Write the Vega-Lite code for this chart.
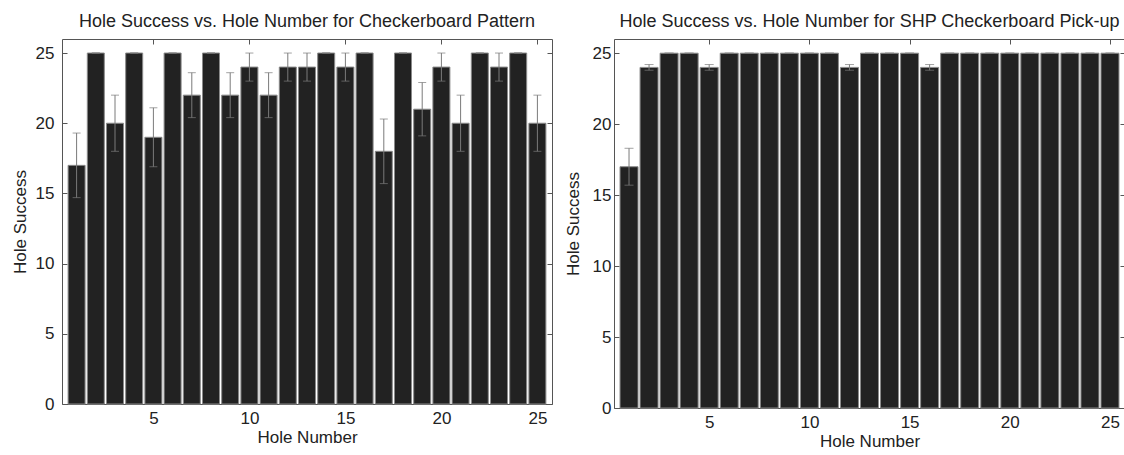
{
  "$schema": "https://vega.github.io/schema/vega-lite/v6.json",
  "background": "white",
  "padding": {"left": 11, "top": 12, "right": 0, "bottom": 0},
  "spacing": 11,
  "config": {
    "font": "Liberation Sans",
    "view": {"stroke": null},
    "title": {"font": "Liberation Sans", "fontSize": 18, "fontWeight": "normal", "color": "#222", "offset": 8},
    "axis": {
      "grid": false,
      "domainColor": "#555",
      "tickColor": "#555",
      "tickSize": -5,
      "labelPadding": 11,
      "labelFont": "Liberation Sans",
      "labelFontSize": 17,
      "labelColor": "#222",
      "titleFont": "Liberation Sans",
      "titleFontSize": 17,
      "titleFontWeight": "normal",
      "titleColor": "#222"
    }
  },
  "datasets": {
    "left": [
      {"hole": 1, "success": 17, "lo": 14.7, "hi": 19.3},
      {"hole": 2, "success": 25, "lo": 25, "hi": 25},
      {"hole": 3, "success": 20, "lo": 18, "hi": 22},
      {"hole": 4, "success": 25, "lo": 25, "hi": 25},
      {"hole": 5, "success": 19, "lo": 16.9, "hi": 21.1},
      {"hole": 6, "success": 25, "lo": 25, "hi": 25},
      {"hole": 7, "success": 22, "lo": 20.4, "hi": 23.6},
      {"hole": 8, "success": 25, "lo": 25, "hi": 25},
      {"hole": 9, "success": 22, "lo": 20.4, "hi": 23.6},
      {"hole": 10, "success": 24, "lo": 23, "hi": 25},
      {"hole": 11, "success": 22, "lo": 20.4, "hi": 23.6},
      {"hole": 12, "success": 24, "lo": 23, "hi": 25},
      {"hole": 13, "success": 24, "lo": 23, "hi": 25},
      {"hole": 14, "success": 25, "lo": 25, "hi": 25},
      {"hole": 15, "success": 24, "lo": 23, "hi": 25},
      {"hole": 16, "success": 25, "lo": 25, "hi": 25},
      {"hole": 17, "success": 18, "lo": 15.7, "hi": 20.3},
      {"hole": 18, "success": 25, "lo": 25, "hi": 25},
      {"hole": 19, "success": 21, "lo": 19.1, "hi": 22.9},
      {"hole": 20, "success": 24, "lo": 23, "hi": 25},
      {"hole": 21, "success": 20, "lo": 18, "hi": 22},
      {"hole": 22, "success": 25, "lo": 25, "hi": 25},
      {"hole": 23, "success": 24, "lo": 23, "hi": 25},
      {"hole": 24, "success": 25, "lo": 25, "hi": 25},
      {"hole": 25, "success": 20, "lo": 18, "hi": 22}
    ],
    "right": [
      {"hole": 1, "success": 17, "lo": 15.7, "hi": 18.3},
      {"hole": 2, "success": 24, "lo": 23.8, "hi": 24.2},
      {"hole": 3, "success": 25, "lo": 25, "hi": 25},
      {"hole": 4, "success": 25, "lo": 25, "hi": 25},
      {"hole": 5, "success": 24, "lo": 23.8, "hi": 24.2},
      {"hole": 6, "success": 25, "lo": 25, "hi": 25},
      {"hole": 7, "success": 25, "lo": 25, "hi": 25},
      {"hole": 8, "success": 25, "lo": 25, "hi": 25},
      {"hole": 9, "success": 25, "lo": 25, "hi": 25},
      {"hole": 10, "success": 25, "lo": 25, "hi": 25},
      {"hole": 11, "success": 25, "lo": 25, "hi": 25},
      {"hole": 12, "success": 24, "lo": 23.8, "hi": 24.2},
      {"hole": 13, "success": 25, "lo": 25, "hi": 25},
      {"hole": 14, "success": 25, "lo": 25, "hi": 25},
      {"hole": 15, "success": 25, "lo": 25, "hi": 25},
      {"hole": 16, "success": 24, "lo": 23.8, "hi": 24.2},
      {"hole": 17, "success": 25, "lo": 25, "hi": 25},
      {"hole": 18, "success": 25, "lo": 25, "hi": 25},
      {"hole": 19, "success": 25, "lo": 25, "hi": 25},
      {"hole": 20, "success": 25, "lo": 25, "hi": 25},
      {"hole": 21, "success": 25, "lo": 25, "hi": 25},
      {"hole": 22, "success": 25, "lo": 25, "hi": 25},
      {"hole": 23, "success": 25, "lo": 25, "hi": 25},
      {"hole": 24, "success": 25, "lo": 25, "hi": 25},
      {"hole": 25, "success": 25, "lo": 25, "hi": 25}
    ]
  },
  "hconcat": [
    {
      "title": "Hole Success vs. Hole Number for Checkerboard Pattern",
      "width": 490,
      "height": 365,
      "data": {"name": "left"},
      "resolve": {"axis": {"x": "independent", "y": "independent"}},
      "layer": [
        {
          "mark": {"type": "bar", "size": 17, "fill": "#222222", "stroke": "#8a8a8a", "strokeWidth": 1},
          "encoding": {
            "x": {"field": "hole", "type": "quantitative", "scale": {"domain": [0.5, 25.5], "nice": false, "zero": false},
                  "axis": {"values": [5, 10, 15, 20, 25], "title": "Hole Number", "titlePadding": 3}},
            "y": {"field": "success", "type": "quantitative", "scale": {"domain": [0, 26], "nice": false},
                  "axis": {"values": [0, 5, 10, 15, 20, 25], "title": "Hole Success", "titlePadding": 6, "labelPadding": 13}}
          }
        },
        {
          "mark": {"type": "errorbar", "ticks": {"size": 8, "color": "#7a7a7a"}, "rule": {"color": "#7a7a7a"}},
          "encoding": {
            "x": {"field": "hole", "type": "quantitative",
                  "axis": {"orient": "top", "values": [5, 10, 15, 20, 25], "labels": false, "title": null}},
            "y": {"field": "lo", "type": "quantitative",
                  "axis": {"orient": "right", "values": [0, 5, 10, 15, 20, 25], "labels": false, "title": null}},
            "y2": {"field": "hi"}
          }
        }
      ]
    },
    {
      "title": "Hole Success vs. Hole Number for SHP Checkerboard Pick-up",
      "width": 511,
      "height": 369,
      "data": {"name": "right"},
      "resolve": {"axis": {"x": "independent", "y": "independent"}},
      "layer": [
        {
          "mark": {"type": "bar", "size": 18, "fill": "#222222", "stroke": "#8a8a8a", "strokeWidth": 1},
          "encoding": {
            "x": {"field": "hole", "type": "quantitative", "scale": {"domain": [0.5, 25.5], "nice": false, "zero": false},
                  "axis": {"values": [5, 10, 15, 20, 25], "title": "Hole Number", "titlePadding": 3}},
            "y": {"field": "success", "type": "quantitative", "scale": {"domain": [0, 26], "nice": false},
                  "axis": {"values": [0, 5, 10, 15, 20, 25], "title": "Hole Success", "titlePadding": 10, "labelPadding": 8}}
          }
        },
        {
          "mark": {"type": "errorbar", "ticks": {"size": 9, "color": "#7a7a7a"}, "rule": {"color": "#7a7a7a"}},
          "encoding": {
            "x": {"field": "hole", "type": "quantitative",
                  "axis": {"orient": "top", "values": [5, 10, 15, 20, 25], "labels": false, "title": null}},
            "y": {"field": "lo", "type": "quantitative",
                  "axis": {"orient": "right", "values": [0, 5, 10, 15, 20, 25], "labels": false, "title": null}},
            "y2": {"field": "hi"}
          }
        }
      ]
    }
  ]
}
